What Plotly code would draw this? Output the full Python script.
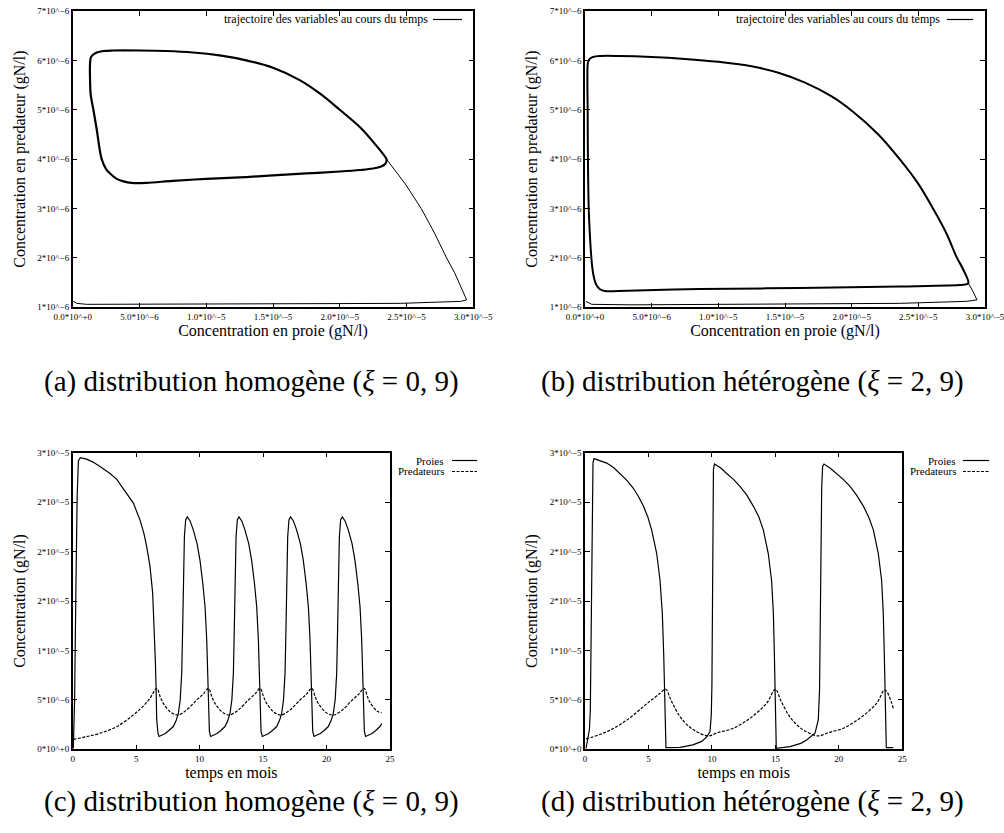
import plotly.graph_objects as go

U = 1e-6  # values below are given in units of 1e-6 gN/l

# ---------- (a) phase portrait, homogeneous ----------
a_trans_prey = [0.05, 0.3, 1.05, 4.55, 9.5, 14.55, 19.5, 24.55, 28.0, 29.05, 29.5,
                29.1, 28.6, 28.0, 27.1, 26.1, 24.9, 23.5]
a_trans_pred = [1.12, 1.08, 1.06, 1.06, 1.065, 1.07, 1.075, 1.08, 1.10, 1.12, 1.15,
                1.40, 1.70, 2.00, 2.50, 3.00, 3.50, 4.00]
a_cycle_prey = [23.5, 22.5, 21.5, 20.0, 18.5, 17.0, 15.0, 13.0, 11.0, 9.0, 7.0, 5.0, 3.0,
                2.3, 1.8, 1.5, 1.36, 1.3, 1.3, 1.35, 1.55, 1.8, 2.17, 2.5, 2.8, 3.3,
                3.8, 4.4, 5.5, 7.5, 10.0, 12.5, 15.0, 17.5, 20.0, 21.5, 22.5, 23.1,
                23.4, 23.5, 23.5]
a_cycle_pred = [4.0, 4.35, 4.65, 5.0, 5.33, 5.6, 5.85, 6.0, 6.1, 6.16, 6.19, 6.2, 6.2,
                6.19, 6.16, 6.11, 6.06, 5.95, 5.6, 5.3, 5.0, 4.6, 4.0, 3.8, 3.71, 3.6,
                3.55, 3.52, 3.52, 3.56, 3.6, 3.63, 3.67, 3.71, 3.75, 3.78, 3.81, 3.85,
                3.9, 3.96, 4.0]

# ---------- (b) phase portrait, heterogeneous ----------
b_trans_prey = [0.08, 0.5, 3.6, 8.6, 13.6, 18.6, 23.6, 28.6, 29.4, 29.1, 28.75]
b_trans_pred = [1.12, 1.06, 1.05, 1.055, 1.06, 1.07, 1.08, 1.12, 1.15, 1.32, 1.49]
b_cycle_prey = [28.75, 28.3, 27.9, 27.1, 26.1, 25.0, 23.6, 22.0, 20.1, 18.5, 16.5, 14.5,
                12.5, 10.0, 7.5, 5.0, 2.5, 1.2, 0.6, 0.35, 0.22, 0.18, 0.2, 0.22, 0.28,
                0.36, 0.45, 0.55, 0.7, 0.9, 1.15, 1.5, 2.5, 8.6, 16.1, 23.6, 28.1,
                28.5, 28.75]
b_cycle_pred = [1.49, 1.8, 2.0, 2.5, 3.0, 3.5, 4.0, 4.5, 4.96, 5.27, 5.55, 5.75,
                5.88, 5.97, 6.03, 6.07, 6.09, 6.09, 6.07, 6.03, 5.95, 5.7, 5.0, 4.0, 3.0,
                2.5, 2.1, 1.8, 1.57, 1.43, 1.36, 1.33, 1.33, 1.37, 1.39, 1.42, 1.45,
                1.46, 1.49]

# ---------- (c) time series, homogeneous ----------
c_prey_t = [0.05, 0.15, 0.25, 0.35, 0.45, 0.6, 1.1, 1.6, 2.15, 2.94, 3.47, 4.12, 4.78,
            5.3, 5.6, 5.83, 6.09, 6.3, 6.43, 6.51, 6.57, 6.62, 6.72, 6.8,
            7.3, 7.6, 7.93, 8.15, 8.32, 8.47, 8.59, 8.66, 8.72, 8.8, 8.9, 9.03,
            9.25, 9.5, 9.8, 10.03, 10.25, 10.43, 10.56, 10.64, 10.69, 10.73, 10.77, 10.87,
            11.37, 11.67, 12.0, 12.22, 12.39, 12.54, 12.66, 12.73, 12.79, 12.87, 12.97,
            13.1, 13.32, 13.57, 13.87, 14.1, 14.32, 14.5, 14.63, 14.71, 14.76, 14.8,
            14.84, 14.94,
            15.44, 15.74, 16.07, 16.29, 16.46, 16.61, 16.73, 16.8, 16.86, 16.94, 17.04,
            17.17, 17.39, 17.64, 17.94, 18.17, 18.39, 18.57, 18.7, 18.78, 18.83, 18.87,
            18.91, 19.01,
            19.51, 19.81, 20.14, 20.36, 20.53, 20.68, 20.8, 20.87, 20.93, 21.01, 21.11,
            21.24, 21.46, 21.71, 22.01, 22.24, 22.46, 22.64, 22.77, 22.85, 22.9, 22.94,
            22.98, 23.08,
            23.58, 23.88, 24.21, 24.34]
c_prey_v = [0.1, 5.0, 16.0, 25.5, 29.2, 29.5, 29.35, 29.05, 28.6, 27.9, 27.3, 26.1, 24.9,
            23.2, 21.9, 20.5, 18.5, 15.8, 12.4, 9.0, 6.2, 3.0, 1.6, 1.3,
            1.6, 1.9, 2.3, 2.9, 3.6, 5.0, 7.7, 12.0, 17.5, 21.5, 23.2, 23.5,
            23.1, 22.2, 20.8, 19.1, 16.8, 14.4, 11.05, 8.0, 6.17, 3.5, 1.8, 1.3,
            1.6, 1.9, 2.3, 2.9, 3.6, 5.0, 7.7, 12.0, 17.5, 21.5, 23.2,
            23.5, 23.1, 22.2, 20.8, 19.1, 16.8, 14.4, 11.05, 8.0, 6.17, 3.5,
            1.8, 1.3,
            1.6, 1.9, 2.3, 2.9, 3.6, 5.0, 7.7, 12.0, 17.5, 21.5, 23.2,
            23.5, 23.1, 22.2, 20.8, 19.1, 16.8, 14.4, 11.05, 8.0, 6.17, 3.5,
            1.8, 1.3,
            1.6, 1.9, 2.3, 2.9, 3.6, 5.0, 7.7, 12.0, 17.5, 21.5, 23.2,
            23.5, 23.1, 22.2, 20.8, 19.1, 16.8, 14.4, 11.05, 8.0, 6.17, 3.5,
            1.8, 1.3,
            1.6, 1.9, 2.3, 2.6]
c_pred_t = [0.05, 1.1, 2.15, 3.47, 4.78, 5.57, 6.09, 6.62,
            6.9, 7.14, 7.67, 8.0, 8.32, 8.98, 9.77, 10.3, 10.69,
            10.97, 11.21, 11.74, 12.07, 12.39, 13.05, 13.84, 14.37, 14.76,
            15.04, 15.28, 15.81, 16.14, 16.46, 17.12, 17.91, 18.44, 18.83,
            19.11, 19.35, 19.88, 20.21, 20.6, 21.25, 22.03, 22.56, 22.95,
            23.23, 23.47, 24.0, 24.34]
c_pred_v = [1.0, 1.28, 1.62, 2.29, 3.48, 4.39, 5.16, 6.17,
            5.3, 4.65, 3.8, 3.55, 3.47, 3.98, 4.99, 5.6, 6.17,
            5.3, 4.65, 3.8, 3.55, 3.47, 3.98, 4.99, 5.6, 6.17,
            5.3, 4.65, 3.8, 3.55, 3.47, 3.98, 4.99, 5.6, 6.17,
            5.3, 4.65, 3.8, 3.55, 3.47, 3.98, 4.99, 5.6, 6.17,
            5.3, 4.65, 3.85, 3.7]

# ---------- (d) time series, heterogeneous ----------
d_prey_t = [0.08, 0.2, 0.35, 0.42, 0.47, 0.53, 0.58, 0.63, 0.71,
            1.2, 1.71, 2.25, 2.76, 3.3, 3.81, 4.2, 4.6, 4.95, 5.25, 5.65, 5.91, 6.09,
            6.2, 6.28, 6.33, 6.38,
            7.5, 8.5, 9.2, 9.59, 9.85, 9.95, 10.0, 10.04, 10.08, 10.12, 10.2,
            10.7, 11.16, 11.7, 12.21, 12.75, 13.26, 13.7, 14.05, 14.44, 14.7, 14.84,
            14.92, 14.97, 15.02, 15.07,
            16.15, 17.0, 17.46, 18.12, 18.38, 18.48, 18.53, 18.58, 18.65, 18.72, 18.83,
            19.3, 19.83, 20.35, 20.88, 21.4, 21.93, 22.35, 22.72, 23.11, 23.37, 23.5,
            23.58, 23.63, 23.69, 23.74, 24.29]
d_prey_v = [0.1, 0.9, 2.0, 4.0, 11.0, 20.0, 26.5, 29.0, 29.4,
            29.2, 28.95, 28.5, 27.9, 27.2, 26.4, 25.6, 24.6, 23.5, 22.2, 19.8, 17.1, 13.8,
            9.7, 6.3, 3.0, 0.17,
            0.2, 0.45, 0.8, 1.25, 1.8, 3.5, 6.5, 14.0, 24.0, 28.3, 28.85,
            28.45, 27.9, 27.3, 26.6, 25.7, 24.6, 23.5, 22.2, 19.8, 17.1, 13.8,
            9.7, 6.3, 3.0, 0.1,
            0.27, 0.6, 0.95, 1.62, 2.97, 6.0, 12.0, 20.0, 26.5, 28.6, 28.85,
            28.45, 27.9, 27.3, 26.6, 25.7, 24.6, 23.5, 22.2, 19.8, 17.1, 13.8,
            9.7, 6.3, 3.0, 0.17, 0.17]
d_pred_t = [0.08, 1.18, 2.23, 3.55, 4.86, 5.91, 6.36,
            6.8, 7.49, 8.2, 8.8, 9.7, 10.5, 11.69, 13.0, 14.31, 15.0,
            15.44, 16.13, 16.84, 17.44, 18.38, 19.2, 20.35, 21.66, 22.98, 23.63,
            24.29]
d_pred_v = [1.05, 1.5, 2.1, 3.2, 4.6, 5.66, 6.07,
            4.9, 3.3, 2.3, 1.78, 1.35, 1.7, 2.13, 3.14, 4.66, 6.07,
            4.9, 3.3, 2.3, 1.78, 1.35, 1.7, 2.13, 3.14, 4.66, 6.0,
            4.15]

# ---------- tick labels ----------
phase_x_vals = [0, 5, 10, 15, 20, 25, 30]
phase_x_text = ["0.0*10^+0", "5.0*10^\u22126", "1.0*10^\u22125", "1.5*10^\u22125",
                "2.0*10^\u22125", "2.5*10^\u22125", "3.0*10^\u22125"]
phase_y_vals = [1, 2, 3, 4, 5, 6, 7]
phase_y_text = ["%d*10^\u22126" % v for v in phase_y_vals]
ts_x_vals = [0, 5, 10, 15, 20, 25]
ts_y_vals = [0, 5, 10, 15, 20, 25, 30]
ts_y_text = ["0*10^+0", "5*10^\u22126", "1*10^\u22125", "2*10^\u22125", "2*10^\u22125",
             "2*10^\u22125", "3*10^\u22125"]

captions = ["(a) distribution homogène (<i>ξ</i> = 0, 9)",
            "(b) distribution hétérogène (<i>ξ</i> = 2, 9)",
            "(c) distribution homogène (<i>ξ</i> = 0, 9)",
            "(d) distribution hétérogène (<i>ξ</i> = 2, 9)"]

W, H = 1004, 833
FONT = '"Liberation Serif", "Times New Roman", "DejaVu Serif", serif'


def sc(lst):
    return [v * U for v in lst]


def fx(px):
    return px / W


def fy(py):
    return 1 - py / H


fig = go.Figure()
black = "black"

fig.add_trace(go.Scatter(x=sc(a_trans_prey), y=sc(a_trans_pred), mode="lines",
                         line=dict(color=black, width=1), xaxis="x", yaxis="y",
                         showlegend=False))
fig.add_trace(go.Scatter(x=sc(a_cycle_prey), y=sc(a_cycle_pred), mode="lines",
                         line=dict(color=black, width=2.2), line_shape="spline",
                         xaxis="x", yaxis="y", showlegend=False))
fig.add_trace(go.Scatter(x=sc(b_trans_prey), y=sc(b_trans_pred), mode="lines",
                         line=dict(color=black, width=1), xaxis="x2", yaxis="y2",
                         showlegend=False))
fig.add_trace(go.Scatter(x=sc(b_cycle_prey), y=sc(b_cycle_pred), mode="lines",
                         line=dict(color=black, width=2), line_shape="spline",
                         xaxis="x2", yaxis="y2", showlegend=False))
fig.add_trace(go.Scatter(x=c_prey_t, y=sc(c_prey_v), mode="lines",
                         line=dict(color=black, width=1.2), xaxis="x3", yaxis="y3",
                         showlegend=False))
fig.add_trace(go.Scatter(x=c_pred_t, y=sc(c_pred_v), mode="lines", line_shape="spline",
                         line=dict(color=black, width=1.2, dash="3px,1.5px"),
                         xaxis="x3", yaxis="y3", showlegend=False))
fig.add_trace(go.Scatter(x=d_prey_t, y=sc(d_prey_v), mode="lines",
                         line=dict(color=black, width=1.2), xaxis="x4", yaxis="y4",
                         showlegend=False))
fig.add_trace(go.Scatter(x=d_pred_t, y=sc(d_pred_v), mode="lines", line_shape="spline",
                         line=dict(color=black, width=1.2, dash="3px,1.5px"),
                         xaxis="x4", yaxis="y4", showlegend=False))

tickfont = dict(family=FONT, size=9, color=black)
titlefont = dict(family=FONT, size=16, color=black)


def axis(domain, rng, tv, tt, title, anchor, standoff):
    return dict(domain=domain, range=rng, tickvals=tv, ticktext=tt, tickfont=tickfont,
                title=dict(text=title, font=titlefont, standoff=standoff),
                showline=True, linecolor=black, linewidth=1.5, mirror="ticks",
                ticks="inside", ticklen=5, tickcolor=black, tickwidth=1,
                showgrid=False, zeroline=False, anchor=anchor, automargin=False,
                ticklabeloverflow="allow")


top_y_dom = [fy(307.3), fy(11)]
bot_y_dom = [fy(749.3), fy(452.7)]
left_x_dom = [fx(72.7), fx(473.3)]
right_x_dom = [fx(585), fx(985)]
bl_x_dom = [fx(72.7), fx(390)]
br_x_dom = [fx(585), fx(902.3)]

px_vals = sc(phase_x_vals)
py_vals = sc(phase_y_vals)
ty_vals = sc(ts_y_vals)

fig.update_layout(
    width=W, height=H, margin=dict(l=0, r=0, t=0, b=0),
    paper_bgcolor="white", plot_bgcolor="white", showlegend=False,
    font=dict(family=FONT, color=black),
    xaxis=axis(left_x_dom, [0, 30 * U], px_vals, phase_x_text,
               "Concentration en proie (gN/l)", "y", 1),
    yaxis=axis(top_y_dom, [1 * U, 7 * U], py_vals, phase_y_text,
               "Concentration en predateur (gN/l)", "x", 8),
    xaxis2=axis(right_x_dom, [0, 30 * U], px_vals, phase_x_text,
                "Concentration en proie (gN/l)", "y2", 1),
    yaxis2=axis(top_y_dom, [1 * U, 7 * U], py_vals, phase_y_text,
                "Concentration en predateur (gN/l)", "x2", 8),
    xaxis3=axis(bl_x_dom, [0, 25], ts_x_vals, [str(v) for v in ts_x_vals],
                "temps en mois", "y3", 2),
    yaxis3=axis(bot_y_dom, [0, 30 * U], ty_vals, ts_y_text,
                "Concentration (gN/l)", "x3", 8),
    xaxis4=axis(br_x_dom, [0, 25], ts_x_vals, [str(v) for v in ts_x_vals],
                "temps en mois", "y4", 2),
    yaxis4=axis(bot_y_dom, [0, 30 * U], ty_vals, ts_y_text,
                "Concentration (gN/l)", "x4", 8),
)

ann = []
shapes = []


def legend_entry(text, text_right, x0, x1, y, dash, size):
    ann.append(dict(text=text, x=fx(text_right), y=fy(y), xref="paper", yref="paper",
                    xanchor="right", yanchor="middle", showarrow=False,
                    font=dict(family=FONT, size=size, color=black), borderpad=0))
    shapes.append(dict(type="line", xref="paper", yref="paper", x0=fx(x0), x1=fx(x1),
                       y0=fy(y), y1=fy(y),
                       line=dict(color=black, width=1.2, dash=dash)))


legend_entry("trajectoire des variables au cours du temps", 429, 433, 462, 19.5, "solid", 12)
legend_entry("trajectoire des variables au cours du temps", 941, 947, 973, 19.5, "solid", 12)
legend_entry("Proies", 445, 452, 477, 460.5, "solid", 11)
legend_entry("Predateurs", 445, 452, 477, 471.5, "3px,1.5px", 11)
legend_entry("Proies", 957, 963, 989, 460.5, "solid", 11)
legend_entry("Predateurs", 957, 963, 989, 471.5, "3px,1.5px", 11)

capfont = dict(family=FONT, size=29, color=black)
for text, cx, cy in zip(captions, [251, 752, 251, 752], [381, 381, 801, 801]):
    ann.append(dict(text=text, x=fx(cx), y=fy(cy), xref="paper", yref="paper",
                    xanchor="center", yanchor="middle", showarrow=False, font=capfont))

fig.update_layout(annotations=ann, shapes=shapes)
fig.write_html("out.html")
